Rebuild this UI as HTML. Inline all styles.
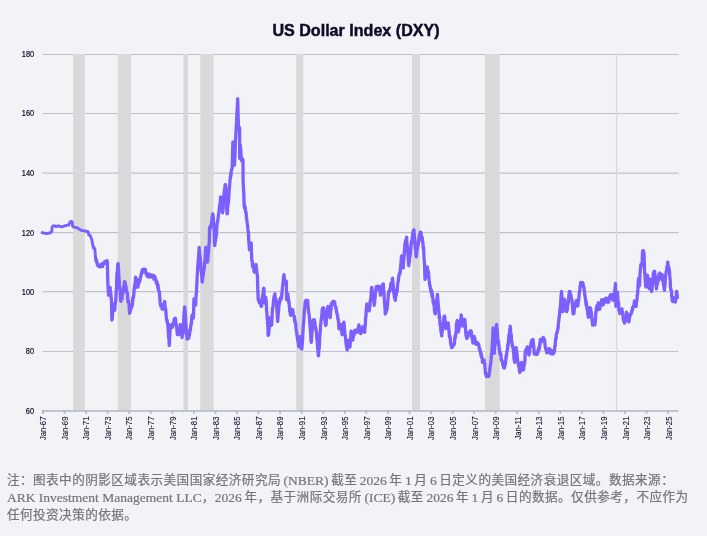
<!DOCTYPE html>
<html lang="zh-CN">
<head>
<meta charset="utf-8">
<title>US Dollar Index (DXY)</title>
<style>
html,body{margin:0;padding:0;}
body{width:707px;height:536px;background:#F2F3F7;position:relative;overflow:hidden;font-family:"Liberation Sans","Noto Sans CJK SC",sans-serif;}
.ttl{font-family:"Liberation Sans",sans-serif;font-weight:700;font-size:16.1px;letter-spacing:0px;fill:#0E0C27;stroke:#0E0C27;stroke-width:0.45px;}
.yl{font-family:"Liberation Sans",sans-serif;font-size:8.6px;fill:#0E0C27;stroke:#0E0C27;stroke-width:0.2px;}
.xl{font-family:"Liberation Sans",sans-serif;font-size:8.5px;fill:#0E0C27;stroke:#0E0C27;stroke-width:0.06px;}
.cap{position:absolute;left:6.9px;top:472.4px;width:700px;margin:0;font-family:"Liberation Serif","Noto Sans CJK SC",serif;font-size:12.6px;letter-spacing:0.46px;line-height:17.1px;color:#74747C;white-space:nowrap;word-spacing:-1.05px;-webkit-text-stroke:0.2px #74747C;}
.cap span{font-size:13.5px;letter-spacing:0;position:relative;top:0.5px;line-height:0;}
.cap .ark{font-size:13.5px;word-spacing:0.1px;}
.cap .l2{font-size:inherit;letter-spacing:inherit;position:static;word-spacing:-1.05px;}
</style>
</head>
<body>
<svg width="707" height="536" viewBox="0 0 707 536" style="position:absolute;left:0;top:0">
<line x1="42.5" x2="678.4" y1="54.5" y2="54.5" stroke="#BFC1CD" stroke-width="1.05"/>
<line x1="42.5" x2="678.4" y1="113.5" y2="113.5" stroke="#BFC1CD" stroke-width="1.05"/>
<line x1="42.5" x2="678.4" y1="173.1" y2="173.1" stroke="#BFC1CD" stroke-width="1.05"/>
<line x1="42.5" x2="678.4" y1="232.6" y2="232.6" stroke="#BFC1CD" stroke-width="1.05"/>
<line x1="42.5" x2="678.4" y1="291.6" y2="291.6" stroke="#BFC1CD" stroke-width="1.05"/>
<line x1="42.5" x2="678.4" y1="351.5" y2="351.5" stroke="#BFC1CD" stroke-width="1.05"/>
<rect x="73.1" y="54" width="11.7" height="356" fill="#D9D9D9"/>
<rect x="117.7" y="54" width="13.2" height="356" fill="#D9D9D9"/>
<rect x="183.4" y="54" width="4.6" height="356" fill="#D9D9D9"/>
<rect x="200.3" y="54" width="13.3" height="356" fill="#D9D9D9"/>
<rect x="296.2" y="54" width="7.0" height="356" fill="#D9D9D9"/>
<rect x="412.1" y="54" width="7.8" height="356" fill="#D9D9D9"/>
<rect x="485.0" y="54" width="14.7" height="356" fill="#D9D9D9"/>
<rect x="615.9" y="54" width="1.4" height="356" fill="#D9D9D9"/>
<rect x="42" y="410.15" width="636.4" height="1.55" fill="#B3B5C3"/>
<rect x="42.10" y="411" width="1.8" height="2.7" fill="#B3B5C3"/>
<rect x="63.66" y="411" width="1.8" height="2.7" fill="#B3B5C3"/>
<rect x="85.21" y="411" width="1.8" height="2.7" fill="#B3B5C3"/>
<rect x="106.77" y="411" width="1.8" height="2.7" fill="#B3B5C3"/>
<rect x="128.32" y="411" width="1.8" height="2.7" fill="#B3B5C3"/>
<rect x="149.88" y="411" width="1.8" height="2.7" fill="#B3B5C3"/>
<rect x="171.43" y="411" width="1.8" height="2.7" fill="#B3B5C3"/>
<rect x="192.99" y="411" width="1.8" height="2.7" fill="#B3B5C3"/>
<rect x="214.54" y="411" width="1.8" height="2.7" fill="#B3B5C3"/>
<rect x="236.10" y="411" width="1.8" height="2.7" fill="#B3B5C3"/>
<rect x="257.65" y="411" width="1.8" height="2.7" fill="#B3B5C3"/>
<rect x="279.21" y="411" width="1.8" height="2.7" fill="#B3B5C3"/>
<rect x="300.76" y="411" width="1.8" height="2.7" fill="#B3B5C3"/>
<rect x="322.32" y="411" width="1.8" height="2.7" fill="#B3B5C3"/>
<rect x="343.87" y="411" width="1.8" height="2.7" fill="#B3B5C3"/>
<rect x="365.43" y="411" width="1.8" height="2.7" fill="#B3B5C3"/>
<rect x="386.98" y="411" width="1.8" height="2.7" fill="#B3B5C3"/>
<rect x="408.54" y="411" width="1.8" height="2.7" fill="#B3B5C3"/>
<rect x="430.09" y="411" width="1.8" height="2.7" fill="#B3B5C3"/>
<rect x="451.65" y="411" width="1.8" height="2.7" fill="#B3B5C3"/>
<rect x="473.20" y="411" width="1.8" height="2.7" fill="#B3B5C3"/>
<rect x="494.76" y="411" width="1.8" height="2.7" fill="#B3B5C3"/>
<rect x="516.31" y="411" width="1.8" height="2.7" fill="#B3B5C3"/>
<rect x="537.87" y="411" width="1.8" height="2.7" fill="#B3B5C3"/>
<rect x="559.42" y="411" width="1.8" height="2.7" fill="#B3B5C3"/>
<rect x="580.98" y="411" width="1.8" height="2.7" fill="#B3B5C3"/>
<rect x="602.53" y="411" width="1.8" height="2.7" fill="#B3B5C3"/>
<rect x="624.09" y="411" width="1.8" height="2.7" fill="#B3B5C3"/>
<rect x="645.64" y="411" width="1.8" height="2.7" fill="#B3B5C3"/>
<rect x="667.20" y="411" width="1.8" height="2.7" fill="#B3B5C3"/>
<path d="M42.15,232.6 L42.36,232.7 L42.57,232.7 L42.78,232.8 L42.99,232.8 L43.20,232.9 L43.41,233.0 L43.62,233.0 L43.83,233.1 L44.04,233.2 L44.20,233.2 L44.25,233.2 L44.46,233.2 L44.67,233.3 L44.88,233.3 L45.09,233.3 L45.30,233.4 L45.51,233.4 L45.72,233.4 L45.93,233.5 L46.14,233.5 L46.35,233.5 L46.56,233.6 L46.77,233.6 L46.80,233.6 L46.98,233.6 L47.19,233.5 L47.40,233.4 L47.61,233.4 L47.82,233.3 L48.03,233.3 L48.24,233.2 L48.45,233.2 L48.66,233.1 L48.87,233.0 L49.05,233.0 L49.08,233.0 L49.29,233.0 L49.50,232.9 L49.71,232.9 L49.92,232.8 L50.13,232.8 L50.34,232.7 L50.55,232.7 L50.76,232.6 L50.97,232.6 L51.00,232.6 L51.18,232.3 L51.39,231.9 L51.60,231.5 L51.81,231.2 L51.90,231.0 L52.00,227.6 L52.02,227.6 L52.23,227.1 L52.44,226.7 L52.65,226.3 L52.70,226.2 L52.86,226.1 L53.07,226.0 L53.28,226.0 L53.49,225.9 L53.70,225.8 L53.91,225.7 L54.10,225.6 L54.12,225.6 L54.33,225.7 L54.54,225.8 L54.75,225.9 L54.96,226.0 L55.17,226.1 L55.38,226.2 L55.59,226.3 L55.80,226.4 L56.01,226.6 L56.10,226.6 L56.22,226.6 L56.43,226.5 L56.64,226.4 L56.85,226.3 L57.06,226.2 L57.27,226.1 L57.48,226.0 L57.69,226.0 L57.90,225.9 L58.10,225.8 L58.11,225.8 L58.32,225.9 L58.53,225.9 L58.74,226.0 L58.95,226.1 L59.16,226.1 L59.37,226.2 L59.58,226.2 L59.79,226.3 L60.00,226.4 L60.21,226.4 L60.42,226.5 L60.63,226.6 L60.84,226.6 L61.05,226.7 L61.26,226.7 L61.47,226.8 L61.68,226.9 L61.80,226.9 L61.89,226.9 L62.10,226.8 L62.31,226.7 L62.52,226.6 L62.73,226.6 L62.94,226.5 L63.15,226.4 L63.36,226.4 L63.57,226.3 L63.78,226.2 L63.99,226.1 L64.20,226.1 L64.41,226.0 L64.62,225.9 L64.83,225.8 L65.04,225.8 L65.25,225.7 L65.46,225.6 L65.50,225.6 L65.67,225.6 L65.88,225.5 L66.09,225.5 L66.30,225.5 L66.51,225.4 L66.72,225.4 L66.93,225.3 L67.14,225.3 L67.35,225.3 L67.56,225.2 L67.77,225.2 L67.98,225.2 L68.19,225.1 L68.40,225.1 L68.61,225.0 L68.82,225.0 L68.85,225.0 L69.03,224.5 L69.24,223.9 L69.45,223.2 L69.66,222.6 L69.70,222.5 L69.87,222.3 L70.08,222.1 L70.29,221.9 L70.50,221.7 L70.71,221.5 L70.92,221.3 L71.10,221.1 L71.13,221.1 L71.34,221.4 L71.55,221.6 L71.76,221.9 L71.97,222.2 L72.18,222.4 L72.25,222.5 L72.39,223.7 L72.60,225.6 L72.70,226.4 L72.81,226.5 L73.02,226.6 L73.23,226.7 L73.44,226.8 L73.65,226.9 L73.86,227.0 L74.07,227.1 L74.28,227.2 L74.49,227.3 L74.50,227.3 L74.70,227.3 L74.91,227.4 L75.12,227.4 L75.33,227.4 L75.54,227.4 L75.75,227.5 L75.96,227.5 L76.17,227.5 L76.38,227.5 L76.59,227.6 L76.80,227.6 L77.01,227.7 L77.22,227.9 L77.43,228.0 L77.64,228.1 L77.85,228.2 L78.06,228.4 L78.27,228.5 L78.48,228.6 L78.69,228.7 L78.90,228.9 L79.11,229.0 L79.32,229.1 L79.53,229.3 L79.60,229.3 L79.74,229.4 L79.95,229.5 L80.16,229.7 L80.37,229.8 L80.58,229.9 L80.79,230.1 L81.00,230.2 L81.21,230.3 L81.42,230.5 L81.63,230.6 L81.65,230.6 L81.84,230.6 L82.05,230.6 L82.26,230.7 L82.47,230.7 L82.68,230.7 L82.89,230.7 L83.10,230.8 L83.31,230.8 L83.52,230.8 L83.73,230.8 L83.94,230.9 L84.15,230.9 L84.36,230.9 L84.57,230.9 L84.78,231.0 L84.99,231.0 L85.05,231.0 L85.20,231.0 L85.41,231.1 L85.62,231.1 L85.83,231.2 L86.04,231.2 L86.25,231.2 L86.46,231.3 L86.67,231.3 L86.88,231.4 L87.09,231.4 L87.30,231.4 L87.51,231.5 L87.72,231.5 L87.93,231.6 L88.14,231.6 L88.15,231.6 L88.35,232.7 L88.56,233.9 L88.70,234.7 L88.77,234.7 L88.98,234.9 L89.19,235.0 L89.40,235.2 L89.61,235.3 L89.82,235.4 L90.03,235.6 L90.24,235.7 L90.40,235.8 L90.45,235.9 L90.66,236.5 L90.87,237.0 L91.08,237.5 L91.29,238.0 L91.50,238.6 L91.55,238.7 L91.71,239.4 L91.92,240.4 L92.13,241.4 L92.34,242.3 L92.40,242.6 L92.55,243.6 L92.76,245.0 L92.97,246.4 L93.00,246.6 L93.18,246.9 L93.39,247.1 L93.60,248.1 L93.81,247.5 L94.02,247.0 L94.23,247.9 L94.44,248.6 L94.65,248.6 L94.70,248.9 L94.86,249.2 L95.07,252.1 L95.28,254.0 L95.49,256.5 L95.70,258.1 L95.90,258.6 L95.91,258.9" fill="none" stroke="#7D5FFF" stroke-width="2.9" stroke-linejoin="round" stroke-linecap="round"/>
<path d="M95.70,258.1 L95.90,258.6 L95.91,258.9 L96.12,261.3 L96.33,260.6 L96.54,260.7 L96.75,261.0 L96.96,262.6 L97.17,263.6 L97.38,264.2 L97.40,264.5 L97.59,264.9 L97.80,265.4 L98.01,266.1 L98.22,265.8 L98.43,264.8 L98.64,265.9 L98.85,265.0 L99.06,265.7 L99.27,265.2 L99.48,266.2 L99.69,266.1 L99.90,267.0 L100.11,266.7 L100.32,266.7 L100.53,266.7 L100.74,264.7 L100.95,265.1 L101.16,266.4 L101.37,265.6 L101.58,265.9 L101.79,265.4 L102.00,263.8 L102.21,265.1 L102.42,263.8 L102.63,266.6 L102.84,264.0 L103.05,264.8 L103.26,263.9 L103.40,263.5 L103.47,263.0 L103.68,263.2 L103.89,263.2 L104.10,263.2 L104.31,263.2 L104.52,263.2 L104.73,261.6 L104.94,263.2 L105.15,263.1 L105.36,263.2 L105.57,262.2 L105.78,262.6 L105.99,262.6 L106.20,262.1 L106.41,261.8 L106.62,261.5 L106.80,261.0 L106.83,260.7 L107.04,260.7 L107.25,262.3 L107.40,262.0 L107.46,266.7 L107.67,276.0 L107.88,283.6 L107.90,283.9 L108.09,287.3 L108.30,290.9 L108.51,294.9 L108.70,295.2 L108.72,294.2 L108.93,294.9 L109.14,293.8 L109.35,293.3 L109.56,292.1 L109.77,288.1 L109.98,290.8 L110.10,287.3 L110.19,289.3 L110.40,291.6 L110.61,292.9 L110.82,293.2 L111.03,295.8 L111.24,298.8 L111.45,300.6 L111.50,300.9 L111.66,309.1 L111.87,319.7 L111.90,320.0 L112.08,319.4 L112.29,318.4 L112.50,314.7 L112.71,310.2 L112.92,308.8 L113.13,308.7 L113.34,307.7 L113.55,307.6 L113.60,304.7 L113.76,305.3 L113.97,307.5 L114.18,307.7 L114.39,306.0 L114.60,310.1 L114.70,310.4 L114.81,310.1 L115.02,306.0 L115.23,303.4 L115.44,301.8 L115.65,302.1 L115.86,298.6 L116.00,295.2 L116.07,294.9 L116.28,290.1 L116.49,287.9 L116.70,280.7 L116.91,275.8 L117.10,272.6 L117.12,272.3 L117.33,272.2 L117.54,269.6 L117.75,264.4 L117.96,263.9 L118.10,263.6 L118.17,263.9 L118.38,268.5 L118.59,270.9 L118.80,275.6 L119.01,278.2 L119.22,280.7 L119.40,283.9 L119.43,284.9 L119.64,288.1 L119.85,288.9 L120.06,291.1 L120.27,291.9 L120.48,298.1 L120.69,301.0 L120.90,301.3 L121.11,299.8 L121.32,297.4 L121.53,298.0 L121.74,297.6 L121.95,299.2 L122.16,296.6 L122.37,293.7 L122.58,290.6 L122.79,293.6 L123.00,292.1 L123.21,289.9 L123.40,289.6 L123.42,287.0 L123.63,289.3 L123.84,288.9 L124.05,286.5 L124.26,283.6 L124.47,282.0 L124.50,281.7 L124.68,282.0 L124.89,283.6 L125.10,282.0 L125.31,283.3 L125.52,287.5 L125.73,289.3 L125.94,287.5 L126.15,286.9 L126.20,289.6 L126.36,291.8 L126.57,290.5 L126.78,291.4 L126.99,292.4 L127.20,292.7 L127.41,294.3 L127.62,298.4 L127.83,299.5 L128.04,302.1 L128.25,301.1 L128.46,301.5 L128.67,301.2 L128.88,303.1 L129.00,304.3 L129.09,304.6 L129.30,308.9 L129.51,312.9 L129.60,313.2 L129.72,312.9 L129.93,312.9 L130.14,311.0 L130.35,311.0 L130.56,309.9 L130.77,308.1 L130.98,306.9 L131.19,306.9 L131.40,307.2 L131.61,307.4 L131.82,306.9 L131.90,306.6 L132.03,306.3 L132.24,305.4 L132.45,305.0 L132.66,300.9 L132.87,297.3 L133.08,298.9 L133.29,296.4 L133.50,297.5 L133.60,295.2 L133.71,294.9 L133.92,294.2 L134.13,288.4 L134.34,289.4 L134.55,286.5 L134.70,286.2 L134.76,284.6 L134.97,284.3 L135.18,282.8 L135.39,281.1 L135.60,277.1 L135.81,277.4 L136.02,277.6 L136.23,281.1 L136.44,284.3 L136.65,284.4 L136.86,287.0 L136.90,287.3 L137.07,287.0 L137.28,285.7 L137.49,284.5 L137.70,283.8 L137.91,286.9 L138.12,286.5 L138.33,284.3 L138.54,283.8 L138.75,283.1 L138.96,282.7 L139.17,282.0 L139.20,281.7 L139.38,279.1 L139.59,278.9 L139.80,281.4 L140.01,280.3 L140.22,278.7 L140.43,277.3 L140.64,276.8 L140.85,276.6 L141.06,274.5 L141.27,274.6 L141.48,274.2 L141.50,273.8 L141.69,272.0 L141.90,271.1 L142.11,270.4 L142.32,272.7 L142.53,269.5 L142.74,270.0 L142.95,269.5 L143.16,269.5 L143.37,269.7 L143.58,271.0 L143.70,269.2 L143.79,269.5 L144.00,269.5 L144.21,269.6 L144.42,271.5 L144.63,270.5 L144.84,269.5 L145.05,269.5 L145.26,269.5 L145.47,269.5 L145.68,273.1 L145.89,273.4 L146.10,272.9 L146.31,273.5 L146.52,273.3 L146.60,273.8 L146.73,275.4 L146.94,274.1 L147.15,274.1 L147.36,274.1 L147.57,275.4 L147.78,276.8 L147.99,274.1 L148.20,276.5 L148.41,275.4 L148.62,275.1 L148.83,275.0 L149.04,275.4 L149.25,274.1 L149.46,274.3 L149.67,274.3 L149.88,276.8 L150.00,277.1 L150.09,276.8 L150.30,276.8 L150.51,275.2 L150.72,275.2 L150.93,275.2 L151.14,276.8 L151.35,276.8 L151.56,275.2 L151.70,274.9 L151.77,276.1 L151.98,275.2 L152.19,275.2 L152.40,275.2 L152.61,275.8 L152.82,276.3 L153.03,276.0 L153.24,276.8 L153.45,276.1 L153.66,275.6 L153.87,279.1 L154.08,278.7 L154.29,278.8 L154.50,276.1 L154.71,277.5 L154.92,279.1 L155.13,277.3 L155.34,279.1 L155.55,279.1 L155.60,279.4 L155.76,279.8 L155.97,280.7 L156.18,282.7 L156.39,281.5 L156.60,283.6 L156.81,282.2 L157.02,281.7 L157.23,283.6 L157.30,283.9 L157.44,284.2 L157.65,286.3 L157.86,288.2 L158.07,285.1 L158.28,288.0 L158.49,290.4 L158.70,290.4 L158.91,290.4 L159.00,290.7 L159.12,291.2 L159.33,291.9 L159.54,294.8 L159.75,297.2 L159.96,299.3 L160.17,303.2 L160.38,303.7 L160.50,304.7 L160.59,305.8 L160.80,305.0 L161.01,305.0 L161.22,305.6 L161.43,305.9 L161.64,305.3 L161.85,306.5 L162.06,308.9 L162.27,308.1 L162.48,308.4 L162.69,308.9 L162.80,309.2 L162.90,308.9 L163.11,308.9 L163.32,304.6 L163.53,304.1 L163.74,304.7 L163.95,304.7 L164.16,305.3 L164.37,303.6 L164.58,301.6 L164.60,301.3 L164.79,302.6 L165.00,305.0 L165.21,307.5 L165.42,308.1 L165.63,308.8 L165.84,310.3 L166.05,314.6 L166.20,314.9 L166.26,317.4 L166.47,318.5 L166.68,319.8 L166.89,320.0 L167.10,322.0 L167.31,321.1 L167.52,323.0 L167.73,323.8 L167.90,326.2 L167.94,326.5 L168.15,329.3 L168.36,333.0 L168.57,337.5 L168.78,337.8 L168.99,339.7 L169.20,344.7 L169.30,345.4 L169.41,343.8 L169.62,339.2 L169.83,336.0 L170.04,330.1 L170.25,329.5 L170.46,325.3 L170.50,325.0 L170.67,327.0 L170.88,327.0 L171.09,327.0 L171.30,327.0 L171.51,326.2 L171.72,326.6 L171.93,327.0 L172.14,327.0 L172.35,327.0 L172.40,327.3 L172.56,325.8 L172.77,326.1 L172.98,324.8 L173.19,322.9 L173.40,324.9 L173.61,324.8 L173.82,323.5 L174.03,321.2 L174.24,319.0 L174.45,321.0 L174.66,320.3 L174.87,318.6 L175.08,318.6 L175.29,318.6 L175.40,318.3 L175.50,319.1 L175.71,321.3 L175.92,323.0 L176.13,324.6 L176.34,324.5 L176.55,326.7 L176.76,328.4 L176.97,330.5 L177.18,332.7 L177.20,333.0 L177.39,334.6 L177.60,332.9 L177.81,333.3 L178.02,333.4 L178.23,334.6 L178.44,334.6 L178.65,332.9 L178.86,334.5 L178.90,334.5 L179.07,334.2 L179.28,330.8 L179.49,330.1 L179.70,328.8 L179.91,327.5 L180.12,325.5 L180.33,324.8 L180.40,324.5 L180.54,326.9 L180.75,327.5 L180.96,327.4 L181.17,330.3 L181.38,332.8 L181.59,333.6 L181.80,335.2 L182.01,337.2 L182.10,337.5 L182.22,335.9 L182.43,333.3 L182.64,333.4 L182.85,333.3 L183.06,333.3 L183.20,333.0 L183.27,332.7 L183.48,326.5 L183.69,320.9 L183.80,318.3 L183.90,317.8 L184.11,312.2 L184.32,311.7 L184.53,307.8 L184.70,307.0 L184.74,307.3 L184.95,309.6 L185.16,311.4 L185.37,316.6 L185.58,318.9 L185.79,323.2 L185.80,323.9 L186.00,325.2 L186.21,329.7 L186.42,332.8 L186.63,334.3 L186.84,335.0 L187.05,336.7 L187.10,339.2 L187.26,338.9 L187.47,338.7 L187.68,337.1 L187.89,336.5 L188.10,335.5 L188.31,335.5 L188.52,335.8 L188.73,338.2 L188.94,336.5 L189.15,335.5 L189.36,335.5 L189.40,335.2 L189.57,334.0 L189.78,331.1 L189.99,329.5 L190.20,329.6 L190.41,330.3 L190.50,328.5 L190.62,328.2 L190.83,325.6 L191.04,324.6 L191.25,322.6 L191.46,323.6 L191.67,318.4 L191.88,316.7 L192.09,317.4 L192.20,314.9 L192.30,317.2 L192.51,316.3 L192.72,316.6 L192.93,316.4 L193.14,315.2 L193.35,315.9 L193.40,318.0 L193.56,313.6 L193.77,305.3 L193.90,299.0 L193.98,300.6 L194.19,301.9 L194.40,300.9 L194.61,301.2 L194.82,303.6 L195.03,302.9 L195.24,301.8 L195.45,303.6 L195.60,305.0 L195.66,304.6 L195.87,300.0 L196.08,295.8 L196.29,293.3 L196.50,291.1 L196.71,287.2 L196.92,282.7 L197.13,278.1 L197.34,274.0 L197.40,272.3 L197.55,272.0 L197.76,265.4 L197.97,265.4 L198.18,261.3 L198.39,257.5 L198.60,257.5 L198.81,252.2 L199.02,251.4 L199.10,247.4 L199.23,248.1 L199.44,251.7 L199.65,254.8 L199.86,256.2 L200.07,255.6 L200.28,259.5 L200.49,262.5 L200.70,263.8 L200.80,266.7 L200.91,268.2 L201.12,269.7 L201.33,271.9 L201.54,273.5 L201.75,275.6 L201.96,279.1 L202.17,281.7 L202.20,282.0 L202.38,280.5 L202.59,277.4 L202.80,278.2 L203.01,275.7 L203.22,275.3 L203.43,272.6 L203.64,271.4 L203.85,271.2 L204.06,269.2 L204.20,268.9 L204.27,268.6 L204.48,265.5 L204.69,261.7 L204.90,262.0 L205.11,260.0 L205.32,255.9 L205.53,250.5 L205.74,248.2 L205.90,247.4 L205.95,247.7 L206.16,247.8 L206.37,249.2 L206.58,251.5 L206.79,254.6 L207.00,255.8 L207.21,258.4 L207.42,261.8 L207.60,262.1 L207.63,261.1 L207.84,259.5 L208.05,256.9 L208.26,254.1 L208.47,253.2 L208.68,249.2 L208.89,246.2 L209.10,243.5 L209.30,241.8 L209.31,241.5 L209.50,229.0 L209.52,227.5 L209.73,227.5 L209.94,226.6 L210.15,228.4 L210.36,227.7 L210.57,228.2 L210.78,226.6 L210.99,225.5 L211.20,225.5 L211.30,225.2 L211.41,224.9 L211.62,221.0 L211.83,220.6 L212.04,218.1 L212.25,216.2 L212.46,215.9 L212.67,214.7 L212.70,213.9 L212.88,214.2 L213.09,215.0 L213.30,218.3 L213.51,223.2 L213.72,224.4 L213.93,223.5 L214.10,228.0 L214.14,229.0 L214.35,236.7 L214.56,242.0 L214.77,245.4 L214.80,245.7 L214.98,243.1 L215.19,242.0 L215.40,240.8 L215.61,238.7 L215.82,238.3 L216.03,236.5 L216.20,236.0 L216.24,235.7 L216.45,234.3 L216.66,230.9 L216.87,226.9 L217.00,225.2 L217.08,223.9 L217.29,223.8 L217.50,220.6 L217.71,221.9 L217.92,219.0 L218.13,218.2 L218.34,216.0 L218.55,214.2 L218.70,213.9 L218.76,212.4 L218.97,212.6 L219.18,209.4 L219.39,208.3 L219.60,205.2 L219.81,203.6 L220.02,203.8 L220.23,203.8 L220.44,198.8 L220.65,197.3 L220.70,197.0 L220.86,197.8 L221.07,200.9 L221.28,201.0 L221.49,204.2 L221.70,206.1 L221.91,209.0 L222.12,209.9 L222.33,209.2 L222.54,212.5 L222.60,212.8 L222.75,211.6 L222.96,210.6 L223.17,207.2 L223.38,202.6 L223.59,201.9 L223.80,198.3 L224.01,193.4 L224.22,191.6 L224.30,191.3 L224.43,190.6 L224.64,189.6 L224.85,187.8 L225.06,184.8 L225.27,184.8 L225.48,184.8 L225.50,184.5 L225.69,187.8 L225.90,189.1 L226.11,196.6 L226.32,200.9 L226.53,205.3 L226.74,209.7 L226.95,211.2 L227.10,213.9 L227.16,213.5 L227.37,213.6 L227.58,207.5 L227.79,206.2 L228.00,203.7 L228.21,203.3 L228.42,203.0 L228.63,198.9 L228.80,197.0 L228.84,196.0 L229.05,192.9 L229.26,188.1 L229.47,188.1 L229.68,184.0 L229.89,182.4 L230.00,180.0 L230.10,179.7 L230.31,176.5 L230.52,178.0 L230.73,173.5 L230.94,175.9 L231.15,173.2 L231.36,169.9 L231.57,169.9 L231.78,169.9 L231.99,167.6 L232.20,167.3 L232.41,159.1 L232.62,150.5 L232.80,143.6 L232.83,142.2 L233.04,143.5 L233.25,143.6 L233.46,143.8 L233.67,142.2 L233.88,143.8 L233.90,142.4 L234.09,150.6 L234.30,159.3 L234.50,165.0 L234.51,164.7 L234.72,159.5 L234.93,156.7 L235.14,151.8 L235.35,143.7 L235.56,139.2 L235.77,136.8 L235.98,132.3 L236.19,128.0 L236.20,127.3 L236.40,124.0 L236.61,121.9 L236.82,115.3 L237.03,110.8 L237.24,107.7 L237.45,104.5 L237.66,100.8 L237.70,98.6 L237.87,104.8 L238.08,113.9 L238.29,120.9 L238.50,127.3 L238.71,127.6 L238.92,129.3 L239.13,129.3 L239.34,129.0 L239.55,127.6 L239.60,129.6 L239.68,158.3 L239.76,155.8 L239.97,153.5 L240.18,147.1 L240.20,144.7 L240.39,146.2 L240.60,148.0 L240.81,152.0 L241.02,154.7 L241.23,159.1 L241.30,159.4 L241.44,159.1 L241.65,160.8 L241.86,160.3 L242.07,159.1 L242.28,160.8 L242.49,160.1 L242.70,159.1 L242.91,160.3 L243.00,160.5 L243.08,178.6 L243.12,180.5 L243.33,186.2 L243.54,189.0 L243.60,191.3 L243.75,191.9 L243.96,198.4 L244.10,202.6 L244.17,204.8 L244.38,206.7 L244.59,208.0 L244.80,207.2 L245.01,209.2 L245.22,206.9 L245.43,210.2 L245.64,211.4 L245.80,211.7 L245.85,212.0 L246.06,212.0 L246.27,215.1 L246.48,218.8 L246.69,218.8 L246.90,221.2 L247.11,221.4 L247.32,223.9 L247.50,225.2 L247.53,225.6 L247.74,227.3 L247.95,230.0 L248.16,230.9 L248.37,231.8 L248.50,235.0 L248.58,237.3 L248.79,241.9 L249.00,242.7 L249.21,246.7 L249.42,249.4 L249.50,249.7 L249.63,247.3 L249.84,248.2 L250.05,246.1 L250.26,248.0 L250.47,247.4 L250.68,246.4 L250.89,243.3 L251.10,243.4 L251.20,243.0 L251.31,244.7 L251.52,253.3 L251.73,258.8 L251.80,260.5 L251.94,260.8 L252.15,260.8 L252.36,261.9 L252.57,266.8 L252.78,266.1 L252.99,266.6 L253.20,266.2 L253.41,266.8 L253.62,267.8 L253.83,268.2 L254.04,271.6 L254.25,271.6 L254.30,272.0 L254.46,270.0 L254.67,271.3 L254.88,269.7 L255.09,269.5 L255.30,267.7 L255.51,265.4 L255.72,267.1 L255.93,264.8 L256.00,264.5 L256.14,264.8 L256.35,267.5 L256.56,268.9 L256.77,271.7 L256.98,273.9 L257.19,274.4 L257.40,274.8 L257.50,278.0 L257.61,283.1 L257.82,290.3 L258.03,294.9 L258.10,298.5 L258.24,299.5 L258.45,300.0 L258.66,300.7 L258.87,300.2 L259.08,301.2 L259.29,302.8 L259.50,301.7 L259.71,300.3 L259.92,302.2 L260.13,303.6 L260.34,301.4 L260.55,302.8 L260.76,305.4 L260.97,305.5 L261.18,306.1 L261.30,306.4 L261.39,306.1 L261.60,306.1 L261.81,302.7 L262.02,299.6 L262.23,297.6 L262.40,297.3 L262.44,297.0 L262.65,294.7 L262.86,295.8 L263.07,294.5 L263.28,293.0 L263.49,288.6 L263.70,288.6 L263.80,288.3 L263.91,288.6 L264.12,294.4 L264.33,299.3 L264.54,302.6 L264.70,303.0 L264.75,301.6 L264.96,302.7 L265.17,302.3 L265.38,301.8 L265.59,300.8 L265.80,297.3 L266.01,299.8 L266.22,300.4 L266.43,306.4 L266.64,311.8 L266.85,312.1 L267.00,314.0 L267.06,315.7 L267.27,319.2 L267.48,320.2 L267.69,323.9 L267.90,326.9 L268.11,334.6 L268.30,335.5 L268.32,335.2 L268.53,335.2 L268.74,333.2 L268.95,330.7 L269.16,328.3 L269.37,322.1 L269.58,319.8 L269.79,318.3 L269.80,318.0 L270.00,321.7 L270.21,318.3 L270.42,321.0 L270.63,319.9 L270.84,323.9 L271.05,325.1 L271.26,324.3 L271.47,325.1 L271.50,325.4 L271.68,324.7 L271.89,320.3 L272.10,315.4 L272.31,311.9 L272.52,308.9 L272.60,308.0 L272.73,307.6 L272.94,307.7 L273.15,305.2 L273.36,302.8 L273.57,300.9 L273.78,299.3 L273.99,297.0 L274.20,296.0 L274.41,297.6 L274.62,295.9 L274.83,294.2 L274.90,293.9 L275.04,296.5 L275.25,297.6 L275.46,299.1 L275.67,298.7 L275.88,299.9 L276.09,300.6 L276.30,302.7 L276.51,303.3 L276.60,305.2 L276.72,306.4 L276.93,309.6 L277.14,312.6 L277.35,315.4 L277.56,321.0 L277.70,321.4 L277.77,319.2 L277.98,318.2 L278.19,314.5 L278.40,311.8 L278.61,311.1 L278.82,306.7 L279.03,304.2 L279.24,304.3 L279.40,303.0 L279.45,300.9 L279.66,300.5 L279.87,302.1 L280.08,298.6 L280.29,298.7 L280.50,297.9 L280.71,298.8 L280.92,297.6 L281.13,299.2 L281.34,298.1 L281.55,298.1 L281.70,297.3 L281.76,293.9 L281.97,293.4 L282.18,290.0 L282.39,289.3 L282.60,286.3 L282.81,284.6 L283.02,282.7 L283.23,281.9 L283.40,279.2 L283.44,277.8 L283.65,276.6 L283.86,277.0 L283.90,274.7 L284.07,275.3 L284.28,277.2 L284.49,278.6 L284.70,281.9 L284.91,282.8 L285.10,283.8 L285.12,283.5 L285.33,282.3 L285.54,281.8 L285.75,281.8 L285.96,281.8 L286.17,282.3 L286.38,282.1 L286.40,281.5 L286.48,299.6 L286.59,297.3 L286.80,299.3 L287.01,299.3 L287.22,298.5 L287.43,297.6 L287.64,295.5 L287.85,294.3 L287.90,293.9 L288.06,296.5 L288.27,297.1 L288.48,299.2 L288.69,302.7 L288.90,301.3 L289.11,302.6 L289.32,306.1 L289.53,307.2 L289.60,308.0 L289.74,311.7 L289.95,311.8 L290.16,311.5 L290.37,314.6 L290.58,315.0 L290.70,315.3 L290.79,313.8 L291.00,314.1 L291.21,312.6 L291.42,315.0 L291.63,313.7 L291.84,311.3 L292.05,311.4 L292.26,309.8 L292.40,309.5 L292.47,309.8 L292.68,313.4 L292.89,309.8 L293.10,312.1 L293.31,314.9 L293.52,315.4 L293.73,315.7 L293.94,315.7 L294.10,316.0 L294.15,316.3 L294.36,316.5 L294.57,321.0 L294.78,319.3 L294.99,321.3 L295.20,322.3 L295.41,323.1 L295.62,323.1 L295.83,325.9 L296.04,328.4 L296.25,330.2 L296.40,331.0 L296.46,331.5 L296.67,331.8 L296.88,334.1 L297.09,336.3 L297.30,335.6 L297.50,337.8 L297.51,338.1 L297.72,339.8 L297.93,341.8 L298.14,340.5 L298.35,342.3 L298.56,344.7 L298.77,346.6 L298.98,345.5 L299.19,346.4 L299.20,346.9 L299.40,346.6 L299.61,345.9 L299.82,340.4 L300.03,339.6 L300.24,337.0 L300.30,336.7 L300.45,337.0 L300.66,338.7 L300.87,341.1 L301.08,345.6 L301.29,346.6 L301.50,347.8 L301.71,348.7 L301.80,349.1 L301.92,346.6 L302.13,345.6 L302.34,342.5 L302.55,340.4 L302.76,335.6 L302.97,331.5 L303.18,327.9 L303.20,327.6 L303.39,322.7 L303.60,324.0 L303.81,319.4 L304.02,317.0 L304.23,312.5 L304.44,310.5 L304.65,307.5 L304.86,307.6 L304.90,306.0 L305.07,303.8 L305.28,301.5 L305.49,302.4 L305.70,301.5 L305.91,300.5 L306.12,300.8 L306.20,300.2 L306.33,300.5 L306.54,300.5 L306.75,300.5 L306.96,300.5 L307.17,300.5 L307.38,302.3 L307.59,302.7 L307.80,300.6 L307.90,303.0 L308.01,305.8 L308.22,307.5 L308.43,311.3 L308.64,311.9 L308.80,313.5 L308.85,313.8 L309.06,314.2 L309.27,315.4 L309.48,318.1 L309.69,322.0 L309.90,325.1 L310.00,325.4 L310.11,327.6 L310.32,328.4 L310.53,332.5 L310.74,334.9 L310.95,340.3 L311.16,342.0 L311.30,342.3 L311.37,340.4 L311.58,337.5 L311.79,335.6 L312.00,331.8 L312.21,330.4 L312.42,328.3 L312.63,325.8 L312.80,322.0 L312.84,320.9 L313.05,320.1 L313.26,320.7 L313.47,321.7 L313.68,321.7 L313.89,321.7 L314.10,321.2 L314.30,319.7 L314.31,321.3 L314.52,323.3 L314.73,324.2 L314.94,321.9 L315.15,325.6 L315.36,326.8 L315.57,326.8 L315.78,329.1 L315.99,330.4 L316.20,331.0 L316.41,331.3 L316.62,335.2 L316.83,338.8 L317.04,340.6 L317.25,340.6 L317.46,345.2 L317.67,348.7 L317.88,350.6 L318.09,353.2 L318.30,354.5 L318.40,355.9 L318.51,354.9 L318.72,351.3 L318.93,349.0 L319.14,348.9 L319.35,345.1 L319.56,341.2 L319.77,335.6 L319.98,334.4 L320.10,333.3 L320.19,331.5 L320.40,329.1 L320.61,324.3 L320.82,324.5 L321.03,321.2 L321.20,320.0 L321.24,319.7 L321.45,318.0 L321.66,317.2 L321.87,314.5 L322.08,311.6 L322.29,309.2 L322.40,308.6 L322.50,309.4 L322.71,309.4 L322.92,307.8 L323.13,309.4 L323.34,307.8 L323.55,307.8 L323.76,309.4 L323.80,308.5 L323.97,311.3 L324.18,312.6 L324.39,315.3 L324.60,316.8 L324.81,319.5 L325.02,320.5 L325.23,322.5 L325.44,323.9 L325.65,325.2 L325.70,325.5 L325.86,325.2 L326.07,324.9 L326.28,321.1 L326.49,319.4 L326.70,316.3 L326.91,314.4 L327.12,313.3 L327.33,310.8 L327.54,308.0 L327.75,307.1 L327.90,306.3 L327.96,307.1 L328.17,308.8 L328.38,306.6 L328.59,311.1 L328.80,310.9 L329.01,310.7 L329.22,311.9 L329.43,314.2 L329.64,316.2 L329.85,315.8 L330.06,317.1 L330.20,317.6 L330.27,316.3 L330.48,313.9 L330.69,310.8 L330.90,310.0 L331.11,309.1 L331.30,304.0 L331.32,303.6 L331.53,303.7 L331.74,303.6 L331.95,303.2 L332.16,302.1 L332.37,303.1 L332.58,303.4 L332.79,302.7 L333.00,301.8 L333.21,301.5 L333.42,301.5 L333.60,301.2 L333.63,301.5 L333.84,301.5 L334.05,302.1 L334.26,301.9 L334.47,303.0 L334.68,301.9 L334.89,304.7 L335.10,306.2 L335.31,305.8 L335.52,307.1 L335.73,306.7 L335.80,307.4 L335.94,308.9 L336.15,308.5 L336.36,309.5 L336.57,312.1 L336.78,312.4 L336.99,313.5 L337.20,315.1 L337.41,315.1 L337.50,315.4 L337.62,315.7 L337.83,318.7 L338.04,319.7 L338.25,319.8 L338.46,320.2 L338.67,324.3 L338.88,328.4 L339.09,326.8 L339.20,328.9 L339.30,328.5 L339.51,327.3 L339.72,326.9 L339.93,326.3 L340.14,324.9 L340.35,326.0 L340.56,326.7 L340.77,325.7 L340.90,324.4 L340.98,326.4 L341.19,327.1 L341.40,329.5 L341.61,329.4 L341.82,332.8 L342.03,334.3 L342.10,334.6 L342.24,334.3 L342.45,332.9 L342.66,329.9 L342.87,330.0 L343.08,328.8 L343.29,327.8 L343.50,324.3 L343.71,322.4 L343.80,322.1 L343.92,322.7 L344.13,324.0 L344.34,327.6 L344.55,330.6 L344.76,332.1 L344.97,334.9 L345.18,336.1 L345.39,335.9 L345.50,338.0 L345.60,338.3 L345.81,341.0 L346.02,343.4 L346.23,344.1 L346.44,346.6 L346.65,345.9 L346.86,347.8 L347.07,349.6 L347.10,349.9 L347.28,349.6 L347.49,345.6 L347.70,343.7 L347.91,343.2 L348.12,344.9 L348.33,345.4 L348.54,341.6 L348.75,340.5 L348.80,340.2 L348.96,340.5 L349.17,342.5 L349.38,343.1 L349.59,346.7 L349.80,346.7 L350.00,347.0 L350.01,346.7 L350.22,343.7 L350.43,341.9 L350.64,339.4 L350.85,334.8 L351.06,333.0 L351.10,331.2 L351.27,332.3 L351.48,333.6 L351.69,335.4 L351.90,335.3 L352.11,335.6 L352.32,339.2 L352.53,339.2 L352.74,339.2 L352.80,340.2 L352.95,337.6 L353.16,338.1 L353.37,335.6 L353.58,335.6 L353.79,333.1 L354.00,333.1 L354.21,334.7 L354.42,333.0 L354.63,330.4 L354.84,333.2 L355.05,330.4 L355.10,330.1 L355.26,330.4 L355.47,330.4 L355.68,332.0 L355.89,330.9 L356.10,332.0 L356.31,332.0 L356.52,330.4 L356.73,331.5 L356.94,331.1 L357.15,332.0 L357.30,332.3 L357.36,330.3 L357.57,330.7 L357.78,331.2 L357.99,329.2 L358.20,329.2 L358.41,327.0 L358.62,326.4 L358.83,326.2 L359.00,325.0 L359.04,327.1 L359.25,328.2 L359.46,329.1 L359.67,329.9 L359.88,330.1 L360.09,329.0 L360.30,332.6 L360.51,333.2 L360.70,333.5 L360.72,333.2 L360.93,332.8 L361.14,333.2 L361.35,332.5 L361.56,329.9 L361.77,329.8 L361.98,328.5 L362.19,328.5 L362.40,327.0 L362.61,327.0 L362.82,328.8 L363.00,326.7 L363.03,327.0 L363.24,327.0 L363.45,327.0 L363.66,328.0 L363.87,327.4 L364.08,330.9 L364.29,328.9 L364.50,332.0 L364.70,332.3 L364.71,332.0 L364.92,328.4 L365.13,326.4 L365.34,323.9 L365.55,318.1 L365.76,317.9 L365.80,317.6 L365.97,315.4 L366.18,312.3 L366.39,308.7 L366.60,306.3 L366.81,304.3 L366.90,304.0 L367.02,304.3 L367.23,306.9 L367.44,306.8 L367.65,306.9 L367.86,307.3 L368.07,307.1 L368.28,310.2 L368.49,310.1 L368.70,309.7 L368.91,309.9 L369.12,310.5 L369.20,310.8 L369.33,308.9 L369.54,307.0 L369.75,307.0 L369.96,305.8 L370.17,300.8 L370.38,300.4 L370.59,300.9 L370.80,297.6 L370.90,297.3 L371.01,296.7 L371.22,293.4 L371.43,290.1 L371.64,287.6 L371.70,287.3 L371.85,287.6 L372.06,290.0 L372.27,292.0 L372.48,294.1 L372.69,294.4 L372.90,295.2 L373.11,297.3 L373.32,298.9 L373.53,300.7 L373.74,301.4 L373.95,303.1 L374.16,304.1 L374.20,305.4 L374.37,303.6 L374.58,303.2 L374.79,299.3 L375.00,298.3 L375.21,296.1 L375.42,293.7 L375.63,292.4 L375.80,289.6 L375.84,289.3 L376.05,289.3 L376.26,286.5 L376.47,288.6 L376.68,289.3 L376.89,289.3 L377.10,287.7 L377.31,288.0 L377.52,288.4 L377.73,286.5 L377.94,288.8 L378.15,288.3 L378.36,286.5 L378.57,286.5 L378.78,286.5 L378.99,289.2 L379.20,286.2 L379.41,286.5 L379.62,286.6 L379.83,291.0 L380.04,292.4 L380.25,293.2 L380.40,295.2 L380.46,294.9 L380.67,294.6 L380.88,293.8 L381.09,291.1 L381.30,293.0 L381.51,290.5 L381.72,291.4 L381.93,290.5 L382.14,288.7 L382.35,287.7 L382.56,286.5 L382.77,284.2 L382.98,284.2 L383.19,284.2 L383.20,283.9 L383.40,284.2 L383.61,289.9 L383.82,293.2 L384.03,292.8 L384.24,297.4 L384.30,298.0 L384.45,301.8 L384.66,303.7 L384.87,306.8 L385.08,309.3 L385.29,313.7 L385.30,314.0 L385.50,312.4 L385.71,312.0 L385.92,310.9 L386.13,312.1 L386.34,309.7 L386.55,309.3 L386.76,309.3 L386.97,310.0 L387.00,309.0 L387.18,307.9 L387.39,306.1 L387.60,302.3 L387.81,301.4 L388.02,299.2 L388.23,296.2 L388.30,295.2 L388.44,294.3 L388.65,292.0 L388.86,292.2 L389.07,291.3 L389.28,292.0 L389.49,291.5 L389.70,289.5 L389.91,290.4 L390.12,290.7 L390.33,288.6 L390.50,287.3 L390.54,287.0 L390.75,283.4 L390.96,283.7 L391.17,284.8 L391.38,286.3 L391.59,282.4 L391.80,283.8 L392.01,283.6 L392.22,282.7 L392.43,278.6 L392.60,278.3 L392.64,279.3 L392.85,282.7 L393.06,283.7 L393.27,285.1 L393.48,287.7 L393.69,292.6 L393.90,293.0 L394.11,294.2 L394.32,295.8 L394.53,297.7 L394.74,298.6 L394.95,298.8 L395.16,298.7 L395.30,300.3 L395.37,298.9 L395.58,297.6 L395.79,294.9 L396.00,293.4 L396.21,295.4 L396.42,292.2 L396.63,290.2 L396.84,290.5 L397.05,291.8 L397.26,291.1 L397.30,288.5 L397.47,285.8 L397.68,284.5 L397.89,282.5 L398.10,281.4 L398.31,281.4 L398.52,278.1 L398.73,276.5 L398.94,276.3 L399.00,276.0 L399.15,274.4 L399.36,273.5 L399.57,272.9 L399.78,272.9 L399.99,273.4 L400.20,272.6 L400.41,267.5 L400.62,268.0 L400.83,265.5 L401.04,262.0 L401.25,260.2 L401.46,256.3 L401.67,256.3 L401.70,256.0 L401.88,260.2 L402.09,261.9 L402.30,260.6 L402.51,262.5 L402.72,265.3 L402.93,264.4 L403.14,267.7 L403.20,268.0 L403.35,266.3 L403.56,261.4 L403.77,260.0 L403.98,257.0 L404.19,255.6 L404.40,249.9 L404.61,247.7 L404.82,247.6 L404.90,244.0 L405.03,243.7 L405.24,243.3 L405.45,241.3 L405.66,240.4 L405.87,241.9 L406.08,241.4 L406.29,239.8 L406.50,238.3 L406.60,237.1 L406.71,238.4 L406.92,244.2 L407.13,246.9 L407.34,246.4 L407.50,250.0 L407.55,250.3 L407.76,252.9 L407.97,254.8 L408.18,257.6 L408.39,261.1 L408.60,264.7 L408.80,265.8 L408.81,265.5 L409.02,262.4 L409.23,262.2 L409.44,260.7 L409.65,256.2 L409.86,257.5 L410.00,255.0 L410.07,251.6 L410.28,254.7 L410.49,252.8 L410.70,249.3 L410.91,248.2 L411.10,243.9 L411.12,242.9 L411.33,243.2 L411.54,243.6 L411.75,241.0 L411.96,239.8 L412.17,237.9 L412.38,238.3 L412.59,235.9 L412.80,234.3 L413.01,232.2 L413.22,231.3 L413.43,231.9 L413.64,231.7 L413.85,230.1 L413.90,229.8 L414.06,231.7 L414.27,234.8 L414.48,238.7 L414.69,239.2 L414.90,241.2 L415.00,243.0 L415.11,246.6 L415.32,247.3 L415.53,249.2 L415.74,250.2 L415.95,253.1 L416.16,256.6 L416.20,256.9 L416.37,256.6 L416.58,252.3 L416.79,253.1 L417.00,249.7 L417.21,249.7 L417.42,247.3 L417.50,247.0 L417.63,244.7 L417.84,246.4 L418.05,244.4 L418.26,244.6 L418.47,241.4 L418.68,243.0 L418.89,239.1 L419.00,238.3 L419.10,237.9 L419.31,235.3 L419.52,236.5 L419.73,234.2 L419.94,233.3 L420.15,232.4 L420.20,232.1 L420.36,232.5 L420.57,232.4 L420.78,234.3 L420.99,232.4 L421.20,235.9 L421.41,235.7 L421.62,238.8 L421.83,237.6 L422.04,237.3 L422.25,238.0 L422.40,239.4 L422.46,240.8 L422.67,241.3 L422.88,242.2 L423.09,245.5 L423.30,248.3 L423.51,246.7 L423.60,249.6 L423.72,249.9 L423.93,256.5 L424.14,260.0 L424.35,262.6 L424.56,264.2 L424.60,264.5 L424.77,272.1 L424.98,278.4 L425.00,279.4 L425.19,279.1 L425.40,275.9 L425.61,277.7 L425.82,275.8 L426.03,272.7 L426.24,272.6 L426.45,270.3 L426.66,270.4 L426.87,268.4 L427.08,267.3 L427.29,269.9 L427.30,267.0 L427.50,269.8 L427.71,270.1 L427.92,272.2 L428.13,271.0 L428.34,272.0 L428.55,272.5 L428.76,277.3 L428.97,278.0 L429.00,278.3 L429.18,280.2 L429.39,281.9 L429.60,284.9 L429.81,284.6 L430.02,286.4 L430.23,287.4 L430.44,288.7 L430.65,288.7 L430.70,289.0 L430.86,290.5 L431.07,292.6 L431.28,290.3 L431.49,290.2 L431.70,292.4 L431.91,296.3 L432.12,295.2 L432.33,293.3 L432.54,296.9 L432.75,297.6 L432.90,297.9 L432.96,299.4 L433.17,302.6 L433.38,301.0 L433.59,303.9 L433.80,304.7 L434.01,304.0 L434.22,306.2 L434.43,310.2 L434.64,312.1 L434.85,311.5 L435.06,313.5 L435.20,313.8 L435.27,313.5 L435.48,312.3 L435.69,310.2 L435.90,306.7 L436.11,305.4 L436.32,304.0 L436.53,301.1 L436.74,299.6 L436.95,298.5 L437.16,296.9 L437.37,296.4 L437.40,294.5 L437.58,295.8 L437.79,299.4 L438.00,301.3 L438.21,304.8 L438.42,306.4 L438.60,309.2 L438.63,309.6 L438.84,309.8 L439.05,314.0 L439.26,317.9 L439.47,315.3 L439.68,318.4 L439.70,319.4 L439.89,322.4 L440.10,325.3 L440.31,325.0 L440.52,324.0 L440.73,328.2 L440.94,331.1 L441.15,332.4 L441.36,333.5 L441.57,333.7 L441.70,335.8 L441.78,334.2 L441.99,330.9 L442.20,332.2 L442.41,330.4 L442.62,329.1 L442.83,327.1 L443.04,327.1 L443.10,323.9 L443.25,323.2 L443.46,323.5 L443.67,319.6 L443.88,317.0 L444.09,319.6 L444.30,317.2 L444.51,316.3 L444.60,316.0 L444.72,316.3 L444.93,319.6 L445.14,321.2 L445.35,322.1 L445.56,323.9 L445.77,328.0 L445.90,328.5 L445.98,328.2 L446.19,326.3 L446.40,327.5 L446.61,328.2 L446.82,327.8 L447.03,327.8 L447.24,326.5 L447.45,323.7 L447.66,323.4 L447.87,323.5 L448.08,323.7 L448.20,322.8 L448.29,324.5 L448.50,325.4 L448.71,328.4 L448.92,330.9 L449.13,331.6 L449.30,335.2 L449.34,335.8 L449.55,336.8 L449.76,337.7 L449.97,336.0 L450.18,337.2 L450.39,339.0 L450.60,343.1 L450.81,342.8 L451.02,345.3 L451.23,344.4 L451.44,345.2 L451.60,347.7 L451.65,347.4 L451.86,345.3 L452.07,346.1 L452.28,347.0 L452.49,346.6 L452.70,346.1 L452.91,346.8 L453.12,346.1 L453.33,344.6 L453.54,345.3 L453.75,344.6 L453.80,344.3 L453.96,344.0 L454.17,344.0 L454.38,344.0 L454.59,341.5 L454.80,338.3 L455.01,336.5 L455.22,338.7 L455.43,336.7 L455.50,335.2 L455.64,334.9 L455.85,333.6 L456.06,332.7 L456.27,329.8 L456.48,324.0 L456.69,323.0 L456.90,322.3 L457.11,320.8 L457.20,320.5 L457.32,321.3 L457.53,323.4 L457.74,325.5 L457.95,327.5 L458.16,328.1 L458.37,329.4 L458.40,331.9 L458.58,330.7 L458.79,329.7 L459.00,329.3 L459.21,326.6 L459.42,326.7 L459.63,324.6 L459.84,324.2 L460.05,324.2 L460.10,323.9 L460.26,323.6 L460.47,321.2 L460.68,318.7 L460.89,319.3 L461.10,318.1 L461.20,314.9 L461.31,315.2 L461.52,317.1 L461.73,318.9 L461.94,318.7 L462.15,324.0 L462.36,320.4 L462.57,322.2 L462.78,325.2 L462.90,326.2 L462.99,323.6 L463.20,323.7 L463.41,325.9 L463.62,325.9 L463.83,322.9 L464.04,321.8 L464.25,319.7 L464.46,320.2 L464.60,319.4 L464.67,319.7 L464.88,319.7 L465.09,323.7 L465.30,324.5 L465.51,329.7 L465.70,330.7 L465.72,332.9 L465.93,333.8 L466.14,335.7 L466.35,336.0 L466.56,337.9 L466.77,338.3 L466.90,338.6 L466.98,337.4 L467.19,336.6 L467.40,335.5 L467.61,337.4 L467.82,337.1 L468.03,334.8 L468.24,334.4 L468.45,334.4 L468.60,334.1 L468.66,333.8 L468.87,333.4 L469.08,332.3 L469.29,332.5 L469.50,333.8 L469.71,332.1 L469.92,331.5 L470.13,333.8 L470.34,333.1 L470.55,331.0 L470.76,332.0 L470.80,330.7 L470.97,332.1 L471.18,331.0 L471.39,332.1 L471.60,336.3 L471.81,336.3 L471.90,337.5 L472.02,337.8 L472.23,339.0 L472.44,339.4 L472.65,339.9 L472.86,342.9 L473.07,342.9 L473.10,343.2 L473.28,340.8 L473.49,339.7 L473.70,338.7 L473.91,338.7 L474.12,339.4 L474.20,336.4 L474.33,337.2 L474.54,337.3 L474.75,338.8 L474.96,338.7 L475.17,340.9 L475.38,343.3 L475.59,342.4 L475.80,342.9 L475.90,343.8 L476.01,342.7 L476.22,344.3 L476.43,342.7 L476.64,342.7 L476.85,342.7 L477.06,344.3 L477.27,343.2 L477.48,342.7 L477.69,344.3 L477.80,343.2 L477.90,343.5 L478.11,343.8 L478.32,344.9 L478.53,344.2 L478.74,345.3 L478.95,346.0 L479.16,347.9 L479.37,349.0 L479.58,349.6 L479.79,349.1 L480.00,349.6 L480.20,349.9 L480.21,351.7 L480.42,352.2 L480.63,352.1 L480.84,355.2 L481.05,353.0 L481.26,354.0 L481.47,355.4 L481.68,357.6 L481.89,357.5 L482.10,358.3 L482.31,359.0 L482.40,362.3 L482.52,360.8 L482.73,362.0 L482.94,362.0 L483.15,360.4 L483.36,362.0 L483.57,361.4 L483.78,362.0 L483.99,360.4 L484.10,360.1 L484.20,362.9 L484.41,362.7 L484.62,363.3 L484.83,365.3 L485.04,368.1 L485.25,369.9 L485.30,370.2 L485.46,373.9 L485.67,372.9 L485.88,373.2 L486.09,375.2 L486.30,375.7 L486.40,376.5 L486.51,375.9 L486.72,376.4 L486.93,376.4 L487.14,376.4 L487.35,375.7 L487.56,375.5 L487.77,375.1 L487.98,376.4 L488.19,376.3 L488.40,376.4 L488.61,375.6 L488.82,376.4 L489.03,374.8 L489.20,374.8 L489.24,374.1 L489.45,371.9 L489.66,371.0 L489.87,368.4 L490.08,367.7 L490.29,365.6 L490.50,364.9 L490.71,363.2 L490.90,362.3 L490.92,361.0 L491.13,359.2 L491.34,355.0 L491.55,353.9 L491.76,353.4 L491.97,349.4 L492.10,347.6 L492.18,347.2 L492.39,341.1 L492.60,339.5 L492.81,336.5 L493.02,328.9 L493.10,328.0 L493.23,330.6 L493.44,337.2 L493.65,337.6 L493.86,345.1 L494.07,349.0 L494.28,351.2 L494.30,353.3 L494.49,348.9 L494.70,346.4 L494.91,345.7 L495.12,342.8 L495.33,337.6 L495.54,336.5 L495.75,335.4 L495.96,332.7 L496.17,332.4 L496.38,325.4 L496.59,324.8 L496.60,324.5 L496.80,328.2 L497.01,328.4 L497.22,330.5 L497.43,334.8 L497.60,338.0 L497.64,338.3 L497.85,339.4 L498.06,341.0 L498.27,343.5 L498.48,341.0 L498.69,345.1 L498.90,345.3 L499.11,346.9 L499.32,349.6 L499.40,349.9 L499.53,351.5 L499.74,351.4 L499.95,354.1 L500.16,352.3 L500.37,353.4 L500.58,353.8 L500.79,353.9 L501.00,356.1 L501.21,360.0 L501.42,359.3 L501.63,360.0 L501.84,360.0 L502.05,360.9 L502.20,361.2 L502.26,361.5 L502.47,361.8 L502.68,364.7 L502.89,363.7 L503.10,365.7 L503.31,365.0 L503.52,367.7 L503.73,367.0 L503.94,367.7 L504.15,367.0 L504.36,367.7 L504.50,368.0 L504.57,365.4 L504.78,366.0 L504.99,363.1 L505.20,365.1 L505.41,363.8 L505.62,361.4 L505.83,360.7 L506.04,355.4 L506.25,358.2 L506.46,355.0 L506.67,355.0 L506.80,353.3 L506.88,351.3 L507.09,350.3 L507.30,350.2 L507.51,349.3 L507.72,345.0 L507.93,343.8 L508.14,345.9 L508.35,342.6 L508.50,342.0 L508.56,339.7 L508.77,337.6 L508.98,334.7 L509.19,335.1 L509.40,335.1 L509.61,332.2 L509.82,329.5 L510.03,328.0 L510.20,326.1 L510.24,326.4 L510.45,329.2 L510.66,333.2 L510.87,335.2 L511.08,334.4 L511.29,334.5 L511.50,340.5 L511.71,341.7 L511.90,342.0 L511.92,343.7 L512.13,343.3 L512.34,345.7 L512.55,347.3 L512.76,347.3 L512.97,346.6 L513.00,347.6 L513.18,349.0 L513.39,350.4 L513.60,353.1 L513.81,354.2 L514.02,359.2 L514.23,359.9 L514.44,360.9 L514.65,361.9 L514.70,362.3 L514.86,360.5 L515.07,359.5 L515.28,358.1 L515.49,356.2 L515.70,351.2 L515.91,349.6 L516.12,348.3 L516.20,347.6 L516.33,348.8 L516.54,350.4 L516.75,352.4 L516.96,354.8 L517.17,355.3 L517.38,358.6 L517.50,358.9 L517.59,359.3 L517.80,361.3 L518.01,363.2 L518.22,362.5 L518.43,363.7 L518.64,366.4 L518.85,364.1 L519.06,365.4 L519.27,369.0 L519.48,371.4 L519.69,370.8 L519.80,372.5 L519.90,372.2 L520.11,371.8 L520.32,369.7 L520.53,368.3 L520.74,365.5 L520.95,366.0 L521.16,364.7 L521.37,364.3 L521.50,362.3 L521.58,363.5 L521.79,364.2 L522.00,365.3 L522.21,368.3 L522.42,365.3 L522.63,367.2 L522.84,367.5 L523.05,369.4 L523.20,370.2 L523.26,369.9 L523.47,369.9 L523.68,368.8 L523.89,366.4 L524.10,365.1 L524.31,364.9 L524.50,364.6 L524.52,363.6 L524.73,362.1 L524.94,359.5 L525.15,353.8 L525.30,352.2 L525.36,351.9 L525.57,350.4 L525.78,351.0 L525.99,351.4 L526.20,349.7 L526.41,351.9 L526.62,348.6 L526.83,349.0 L527.04,347.5 L527.25,347.1 L527.46,347.1 L527.50,346.8 L527.67,348.5 L527.88,349.1 L528.09,349.2 L528.30,350.5 L528.51,352.0 L528.72,354.7 L528.90,355.0 L528.93,354.7 L529.14,354.7 L529.35,352.0 L529.56,352.8 L529.77,347.5 L529.98,348.3 L530.19,346.4 L530.40,346.2 L530.61,347.2 L530.82,345.0 L531.03,343.3 L531.20,342.5 L531.24,341.9 L531.45,340.8 L531.66,342.2 L531.87,342.2 L532.08,339.8 L532.29,340.5 L532.50,341.5 L532.71,340.2 L532.92,339.8 L533.10,339.5 L533.13,340.2 L533.34,341.5 L533.55,345.9 L533.76,345.5 L533.97,349.3 L534.18,353.7 L534.30,354.0 L534.39,353.7 L534.60,352.7 L534.81,352.7 L535.02,352.7 L535.23,353.2 L535.44,352.8 L535.65,354.3 L535.86,353.0 L536.07,353.3 L536.28,353.7 L536.49,354.3 L536.70,354.3 L536.91,352.7 L537.12,354.3 L537.33,353.5 L537.54,352.7 L537.75,352.7 L537.90,353.0 L537.96,349.9 L538.17,351.2 L538.38,349.7 L538.59,349.9 L538.80,347.6 L539.01,347.5 L539.22,349.5 L539.43,348.2 L539.64,345.7 L539.85,342.6 L540.06,344.5 L540.20,342.0 L540.27,339.3 L540.48,341.7 L540.69,340.8 L540.90,341.7 L541.11,341.7 L541.32,341.7 L541.53,341.7 L541.74,341.5 L541.95,339.1 L542.16,339.9 L542.37,341.1 L542.58,339.4 L542.79,337.8 L543.00,337.8 L543.21,337.8 L543.30,337.5 L543.42,337.8 L543.63,340.4 L543.84,338.5 L544.05,341.0 L544.26,339.0 L544.47,339.9 L544.68,341.3 L544.89,342.8 L545.00,345.0 L545.10,345.3 L545.31,346.8 L545.52,348.4 L545.73,348.8 L545.94,349.7 L546.15,349.4 L546.36,349.6 L546.57,349.7 L546.70,352.8 L546.78,350.6 L546.99,351.2 L547.20,352.5 L547.41,352.5 L547.62,352.5 L547.83,350.1 L548.04,348.9 L548.25,348.9 L548.46,351.7 L548.67,350.9 L548.88,348.9 L549.00,348.6 L549.09,348.9 L549.30,351.5 L549.51,349.6 L549.72,349.3 L549.93,351.0 L550.14,349.1 L550.35,350.2 L550.56,353.7 L550.77,353.0 L550.98,350.8 L551.19,351.6 L551.40,352.4 L551.61,351.8 L551.82,353.6 L552.03,353.7 L552.20,354.0 L552.24,353.7 L552.45,353.7 L552.66,353.7 L552.87,351.9 L553.08,353.6 L553.29,353.7 L553.50,351.8 L553.71,350.4 L553.92,351.5 L554.13,351.0 L554.34,352.1 L554.50,350.1 L554.55,349.8 L554.76,346.3 L554.97,347.0 L555.18,345.3 L555.39,341.8 L555.60,339.4 L555.81,337.9 L556.02,339.0 L556.20,337.6 L556.23,334.6 L556.44,334.2 L556.65,333.5 L556.86,333.3 L557.07,332.6 L557.28,331.0 L557.49,331.3 L557.70,329.2 L557.91,327.8 L558.12,328.4 L558.33,325.0 L558.54,321.9 L558.75,321.3 L558.96,317.7 L559.17,317.6 L559.30,317.3 L559.38,315.3 L559.59,314.2 L559.80,309.4 L560.01,309.7 L560.22,308.1 L560.40,306.0 L560.43,305.7 L560.64,303.6 L560.85,299.7 L561.06,295.6 L561.27,295.0 L561.48,292.8 L561.50,291.3 L561.69,293.3 L561.90,296.5 L562.11,303.1 L562.32,305.8 L562.53,308.4 L562.60,311.7 L562.74,311.4 L562.95,309.8 L563.16,308.1 L563.37,305.9 L563.58,304.5 L563.79,304.2 L564.00,302.4 L564.21,299.5 L564.30,299.2 L564.42,302.5 L564.63,301.0 L564.84,300.2 L565.05,302.9 L565.26,302.7 L565.47,308.4 L565.68,308.4 L565.89,309.2 L566.10,309.9 L566.31,311.4 L566.52,310.6 L566.60,311.7 L566.73,308.5 L566.94,310.9 L567.15,308.9 L567.36,310.2 L567.57,306.9 L567.78,304.0 L567.99,302.9 L568.20,303.8 L568.30,302.6 L568.41,301.5 L568.62,298.3 L568.83,295.8 L569.04,293.8 L569.25,294.8 L569.40,291.3 L569.46,291.7 L569.67,293.4 L569.88,292.2 L570.09,291.6 L570.30,295.7 L570.51,296.7 L570.72,296.2 L570.93,294.8 L571.10,297.0 L571.14,297.5 L571.35,297.7 L571.56,299.5 L571.77,299.1 L571.98,301.4 L572.19,302.6 L572.40,303.9 L572.61,308.1 L572.82,310.0 L573.03,313.6 L573.24,309.9 L573.40,313.9 L573.45,311.9 L573.66,313.6 L573.87,313.5 L574.08,311.3 L574.29,309.9 L574.50,307.6 L574.71,306.5 L574.92,305.6 L575.13,302.8 L575.34,306.4 L575.55,305.1 L575.76,305.3 L575.97,304.1 L576.18,302.0 L576.20,300.4 L576.39,300.7 L576.60,300.7 L576.81,303.0 L577.02,302.7 L577.23,301.3 L577.44,303.7 L577.65,303.1 L577.86,305.2 L577.90,306.0 L578.07,303.5 L578.28,301.7 L578.49,301.4 L578.70,299.2 L578.91,297.5 L579.12,294.3 L579.33,292.8 L579.54,291.6 L579.60,291.3 L579.75,291.0 L579.96,287.2 L580.17,286.0 L580.38,285.7 L580.59,285.2 L580.70,282.3 L580.80,282.6 L581.01,282.6 L581.22,285.4 L581.43,283.4 L581.64,284.1 L581.85,282.9 L582.06,283.1 L582.27,282.6 L582.48,283.4 L582.69,282.6 L582.90,283.4 L583.11,283.9 L583.32,286.5 L583.53,286.5 L583.60,286.8 L583.74,287.2 L583.95,287.1 L584.16,290.4 L584.37,290.5 L584.58,292.5 L584.79,295.5 L585.00,295.8 L585.20,297.0 L585.21,297.3 L585.42,299.3 L585.63,300.6 L585.84,302.1 L586.05,304.8 L586.26,301.7 L586.47,304.1 L586.68,306.5 L586.89,306.8 L586.90,307.1 L587.10,309.3 L587.31,307.9 L587.52,310.6 L587.73,314.2 L587.94,314.5 L588.15,315.4 L588.36,317.0 L588.40,317.3 L588.57,316.0 L588.78,316.8 L588.99,313.5 L589.20,310.7 L589.41,310.8 L589.62,308.4 L589.80,307.7 L589.83,308.0 L590.04,308.0 L590.25,309.2 L590.46,308.0 L590.67,309.0 L590.88,311.5 L591.09,311.7 L591.30,312.5 L591.50,312.8 L591.51,315.7 L591.72,318.1 L591.93,317.7 L592.14,321.3 L592.35,320.3 L592.56,324.9 L592.60,325.2 L592.77,324.5 L592.98,324.9 L593.19,324.9 L593.40,324.6 L593.61,323.3 L593.82,324.9 L594.03,323.3 L594.24,323.4 L594.45,324.7 L594.66,323.9 L594.87,324.9 L594.90,323.0 L595.08,322.6 L595.29,321.8 L595.50,318.7 L595.71,313.4 L595.92,312.0 L596.00,311.7 L596.13,311.4 L596.34,307.9 L596.55,311.4 L596.76,307.2 L596.97,305.7 L597.18,307.0 L597.39,306.4 L597.60,307.6 L597.81,305.5 L598.02,304.5 L598.23,304.1 L598.30,302.6 L598.44,302.9 L598.65,303.4 L598.86,307.1 L599.07,307.2 L599.28,309.1 L599.40,309.4 L599.49,309.1 L599.70,308.4 L599.91,308.6 L600.12,306.8 L600.33,305.9 L600.54,304.0 L600.75,305.4 L600.96,303.3 L601.17,302.8 L601.38,302.3 L601.59,300.1 L601.70,299.8 L601.80,300.1 L602.01,302.4 L602.22,300.4 L602.43,300.3 L602.64,300.8 L602.85,302.3 L603.06,302.2 L603.27,303.0 L603.30,304.9 L603.48,302.9 L603.69,303.5 L603.90,301.6 L604.11,302.1 L604.32,303.0 L604.53,299.2 L604.74,300.7 L604.95,301.1 L605.16,300.4 L605.37,300.4 L605.58,300.2 L605.79,298.4 L606.00,298.4 L606.20,298.1 L606.21,300.2 L606.42,298.4 L606.63,298.4 L606.84,298.4 L607.05,299.6 L607.26,299.1 L607.47,299.5 L607.68,302.3 L607.89,302.3 L607.90,302.6 L608.10,302.3 L608.31,300.6 L608.52,301.6 L608.73,301.0 L608.94,301.6 L609.15,299.3 L609.36,297.3 L609.57,297.4 L609.78,298.3 L609.99,295.7 L610.20,296.4 L610.41,295.6 L610.62,295.2 L610.70,294.7 L610.83,295.9 L611.04,296.9 L611.25,296.0 L611.46,296.0 L611.67,295.0 L611.88,295.5 L612.09,295.3 L612.30,298.8 L612.51,297.6 L612.72,298.2 L612.93,300.1 L613.00,300.4 L613.14,300.1 L613.35,298.1 L613.56,297.8 L613.77,298.2 L613.98,294.8 L614.19,293.9 L614.40,292.3 L614.61,292.3 L614.70,292.0 L614.82,291.0 L615.03,288.0 L615.24,285.3 L615.45,285.9 L615.50,283.5 L615.66,294.3 L615.80,306.3 L615.87,305.9 L616.08,303.6 L616.29,301.1 L616.50,299.0 L616.71,298.7 L616.92,294.4 L617.13,293.9 L617.34,292.3 L617.40,292.0 L617.55,295.0 L617.76,297.1 L617.97,299.6 L618.18,302.1 L618.39,303.8 L618.60,302.9 L618.80,308.0 L618.81,308.3 L619.02,310.2 L619.23,311.3 L619.44,311.3 L619.65,311.7 L619.70,313.5 L619.86,313.0 L620.07,312.5 L620.28,311.0 L620.49,311.0 L620.70,311.7 L620.91,310.2 L621.12,310.2 L621.33,309.2 L621.54,309.2 L621.75,309.2 L621.96,309.2 L622.00,308.9 L622.17,312.3 L622.38,311.3 L622.59,313.9 L622.80,315.3 L623.01,316.5 L623.10,316.9 L623.22,319.1 L623.43,317.2 L623.64,321.0 L623.85,320.5 L624.06,320.2 L624.27,320.8 L624.48,322.3 L624.50,323.1 L624.69,322.8 L624.90,321.8 L625.11,318.8 L625.32,319.5 L625.53,318.1 L625.74,316.7 L625.95,316.7 L626.16,314.4 L626.37,312.7 L626.50,312.3 L626.58,312.6 L626.79,312.6 L627.00,314.4 L627.21,316.8 L627.42,314.2 L627.63,316.4 L627.84,316.7 L628.05,318.0 L628.26,320.3 L628.47,321.6 L628.68,321.6 L628.80,321.9 L628.89,321.6 L629.10,321.3 L629.31,317.2 L629.52,318.6 L629.73,316.1 L629.94,314.9 L630.15,315.6 L630.36,314.9 L630.50,314.6 L630.57,314.3 L630.78,314.3 L630.99,314.2 L631.20,313.2 L631.41,312.3 L631.62,312.5 L631.83,310.2 L632.04,310.4 L632.25,309.9 L632.46,310.3 L632.67,307.2 L632.88,307.9 L633.09,307.1 L633.30,306.7 L633.51,306.4 L633.72,305.1 L633.93,304.3 L634.14,303.2 L634.35,303.5 L634.40,301.0 L634.56,302.6 L634.77,301.3 L634.98,302.3 L635.19,304.6 L635.40,306.1 L635.61,304.2 L635.82,305.4 L636.03,306.0 L636.10,306.7 L636.24,304.7 L636.45,302.7 L636.66,301.3 L636.87,299.8 L637.08,299.3 L637.29,295.1 L637.50,294.0 L637.71,291.6 L637.92,288.9 L638.13,284.9 L638.34,280.3 L638.55,279.9 L638.60,278.2 L638.76,280.8 L638.97,282.1 L639.18,283.2 L639.39,284.7 L639.50,285.9 L639.60,284.5 L639.81,278.1 L640.02,275.1 L640.23,270.4 L640.44,269.2 L640.60,266.7 L640.65,266.4 L640.86,264.6 L641.07,266.4 L641.28,266.4 L641.49,264.8 L641.70,263.6 L641.80,263.3 L641.91,262.9 L642.12,262.4 L642.33,257.2 L642.54,252.1 L642.75,250.9 L642.90,250.6 L642.96,251.3 L643.17,250.9 L643.38,250.9 L643.59,252.2 L643.80,252.8 L644.00,253.1 L644.01,253.4 L644.22,260.1 L644.43,266.4 L644.60,272.3 L644.64,272.6 L644.85,273.7 L645.06,278.5 L645.27,280.3 L645.48,283.3 L645.69,286.5 L645.90,283.5 L646.00,287.0 L646.11,286.7 L646.32,284.3 L646.53,281.7 L646.74,281.1 L646.95,278.3 L647.16,275.8 L647.37,275.5 L647.40,275.2 L647.58,276.6 L647.79,279.6 L648.00,280.4 L648.21,281.1 L648.42,286.1 L648.63,285.5 L648.84,286.4 L649.05,288.0 L649.10,288.7 L649.26,284.7 L649.47,285.0 L649.68,285.6 L649.89,279.8 L650.10,279.4 L650.20,279.1 L650.31,279.4 L650.52,282.4 L650.73,283.9 L650.94,284.1 L651.15,286.8 L651.36,288.5 L651.57,291.3 L651.60,291.6 L651.78,289.7 L651.99,289.9 L652.20,286.9 L652.41,284.8 L652.62,281.7 L652.83,280.7 L653.04,278.4 L653.10,278.0 L653.25,274.8 L653.46,273.0 L653.67,274.2 L653.88,273.3 L654.09,273.5 L654.20,271.2 L654.30,273.0 L654.51,271.5 L654.72,271.6 L654.93,274.0 L655.14,276.0 L655.30,278.0 L655.35,278.3 L655.56,280.0 L655.77,282.1 L655.98,284.4 L656.19,286.3 L656.40,288.4 L656.50,288.7 L656.61,287.8 L656.82,284.9 L657.03,283.8 L657.24,283.9 L657.45,284.2 L657.66,281.9 L657.87,280.5 L658.08,281.5 L658.20,280.2 L658.29,277.0 L658.50,276.7 L658.71,275.6 L658.92,274.3 L659.13,274.8 L659.34,277.3 L659.55,273.9 L659.76,273.2 L659.90,272.9 L659.97,273.8 L660.18,274.5 L660.39,277.6 L660.60,275.7 L660.81,277.6 L661.00,279.1 L661.02,278.8 L661.23,276.6 L661.44,275.5 L661.65,278.4 L661.86,276.0 L662.07,274.9 L662.10,274.6 L662.28,274.9 L662.49,276.4 L662.70,275.8 L662.91,281.1 L663.12,280.2 L663.30,282.5 L663.33,282.8 L663.54,284.0 L663.75,286.1 L663.96,287.3 L664.17,288.3 L664.38,290.1 L664.40,290.4 L664.59,287.6 L664.80,286.8 L665.01,285.3 L665.22,280.1 L665.43,277.5 L665.64,275.5 L665.85,274.9 L666.06,272.6 L666.10,272.3 L666.27,271.8 L666.48,270.4 L666.69,270.1 L666.90,266.8 L667.11,266.6 L667.32,265.6 L667.53,265.8 L667.74,262.4 L667.80,262.1 L667.95,264.3 L668.16,264.8 L668.37,266.9 L668.58,266.4 L668.79,267.2 L669.00,269.6 L669.21,269.5 L669.42,270.9 L669.50,271.2 L669.63,274.2 L669.84,276.9 L670.05,278.8 L670.26,281.3 L670.47,287.6 L670.60,288.0 L670.68,288.3 L670.89,290.1 L671.10,289.8 L671.31,290.9 L671.52,292.0 L671.73,297.3 L671.94,297.2 L672.15,299.5 L672.36,301.2 L672.57,301.3 L672.78,301.3 L672.90,301.6 L672.99,300.4 L673.20,301.3 L673.41,301.3 L673.62,298.7 L673.83,300.2 L674.04,299.0 L674.20,297.6 L674.25,299.6 L674.46,301.4 L674.67,299.3 L674.88,300.2 L675.09,301.8 L675.30,301.8 L675.40,302.1 L675.51,301.4 L675.72,297.3 L675.93,296.6 L676.14,297.3 L676.35,294.3 L676.56,291.7 L676.77,291.7 L676.80,291.4 L676.98,293.9 L677.19,296.1 L677.40,297.6" fill="none" stroke="#7D5FFF" stroke-width="3.3" stroke-linejoin="round" stroke-linecap="round"/>
<text transform="translate(34.1,57.4) scale(0.86,1)" text-anchor="end" class="yl">180</text>
<text transform="translate(34.1,116.4) scale(0.86,1)" text-anchor="end" class="yl">160</text>
<text transform="translate(34.1,176.0) scale(0.86,1)" text-anchor="end" class="yl">140</text>
<text transform="translate(34.1,235.5) scale(0.86,1)" text-anchor="end" class="yl">120</text>
<text transform="translate(34.1,294.5) scale(0.86,1)" text-anchor="end" class="yl">100</text>
<text transform="translate(34.1,354.4) scale(0.86,1)" text-anchor="end" class="yl">80</text>
<text transform="translate(34.1,413.8) scale(0.86,1)" text-anchor="end" class="yl">60</text>
<text transform="translate(46.0,416.6) rotate(-90) scale(0.905,1)" text-anchor="end" class="xl">Jan-67</text>
<text transform="translate(67.6,416.6) rotate(-90) scale(0.905,1)" text-anchor="end" class="xl">Jan-69</text>
<text transform="translate(89.2,416.6) rotate(-90) scale(0.905,1)" text-anchor="end" class="xl">Jan-71</text>
<text transform="translate(110.7,416.6) rotate(-90) scale(0.905,1)" text-anchor="end" class="xl">Jan-73</text>
<text transform="translate(132.3,416.6) rotate(-90) scale(0.905,1)" text-anchor="end" class="xl">Jan-75</text>
<text transform="translate(153.9,416.6) rotate(-90) scale(0.905,1)" text-anchor="end" class="xl">Jan-77</text>
<text transform="translate(175.5,416.6) rotate(-90) scale(0.905,1)" text-anchor="end" class="xl">Jan-79</text>
<text transform="translate(197.0,416.6) rotate(-90) scale(0.905,1)" text-anchor="end" class="xl">Jan-81</text>
<text transform="translate(218.6,416.6) rotate(-90) scale(0.905,1)" text-anchor="end" class="xl">Jan-83</text>
<text transform="translate(240.2,416.6) rotate(-90) scale(0.905,1)" text-anchor="end" class="xl">Jan-85</text>
<text transform="translate(261.8,416.6) rotate(-90) scale(0.905,1)" text-anchor="end" class="xl">Jan-87</text>
<text transform="translate(283.3,416.6) rotate(-90) scale(0.905,1)" text-anchor="end" class="xl">Jan-89</text>
<text transform="translate(304.9,416.6) rotate(-90) scale(0.905,1)" text-anchor="end" class="xl">Jan-91</text>
<text transform="translate(326.5,416.6) rotate(-90) scale(0.905,1)" text-anchor="end" class="xl">Jan-93</text>
<text transform="translate(348.1,416.6) rotate(-90) scale(0.905,1)" text-anchor="end" class="xl">Jan-95</text>
<text transform="translate(369.6,416.6) rotate(-90) scale(0.905,1)" text-anchor="end" class="xl">Jan-97</text>
<text transform="translate(391.2,416.6) rotate(-90) scale(0.905,1)" text-anchor="end" class="xl">Jan-99</text>
<text transform="translate(412.8,416.6) rotate(-90) scale(0.905,1)" text-anchor="end" class="xl">Jan-01</text>
<text transform="translate(434.4,416.6) rotate(-90) scale(0.905,1)" text-anchor="end" class="xl">Jan-03</text>
<text transform="translate(455.9,416.6) rotate(-90) scale(0.905,1)" text-anchor="end" class="xl">Jan-05</text>
<text transform="translate(477.5,416.6) rotate(-90) scale(0.905,1)" text-anchor="end" class="xl">Jan-07</text>
<text transform="translate(499.1,416.6) rotate(-90) scale(0.905,1)" text-anchor="end" class="xl">Jan-09</text>
<text transform="translate(520.7,416.6) rotate(-90) scale(0.905,1)" text-anchor="end" class="xl">Jan-11</text>
<text transform="translate(542.2,416.6) rotate(-90) scale(0.905,1)" text-anchor="end" class="xl">Jan-13</text>
<text transform="translate(563.8,416.6) rotate(-90) scale(0.905,1)" text-anchor="end" class="xl">Jan-15</text>
<text transform="translate(585.4,416.6) rotate(-90) scale(0.905,1)" text-anchor="end" class="xl">Jan-17</text>
<text transform="translate(607.0,416.6) rotate(-90) scale(0.905,1)" text-anchor="end" class="xl">Jan-19</text>
<text transform="translate(628.5,416.6) rotate(-90) scale(0.905,1)" text-anchor="end" class="xl">Jan-21</text>
<text transform="translate(650.1,416.6) rotate(-90) scale(0.905,1)" text-anchor="end" class="xl">Jan-23</text>
<text transform="translate(671.7,416.6) rotate(-90) scale(0.905,1)" text-anchor="end" class="xl">Jan-25</text>
<text x="356.0" y="36.0" text-anchor="middle" class="ttl">US Dollar Index (DXY)</text>
</svg>
<p class="cap">注：图表中的阴影区域表示美国国家经济研究局 <span>(NBER)</span> 截至 <span>2026</span> 年 <span>1</span> 月 <span>6</span> 日定义的美国经济衰退区域。数据来源：<br><span class="l2"><span class="ark">ARK Investment Management LLC</span>，<span>2026</span> 年，基于洲际交易所 <span>(ICE)</span> 截至 <span>2026</span> 年 <span>1</span> 月 <span>6</span> 日的数据。仅供参考，不应作为</span><br>任何投资决策的依据。</p>
</body>
</html>
